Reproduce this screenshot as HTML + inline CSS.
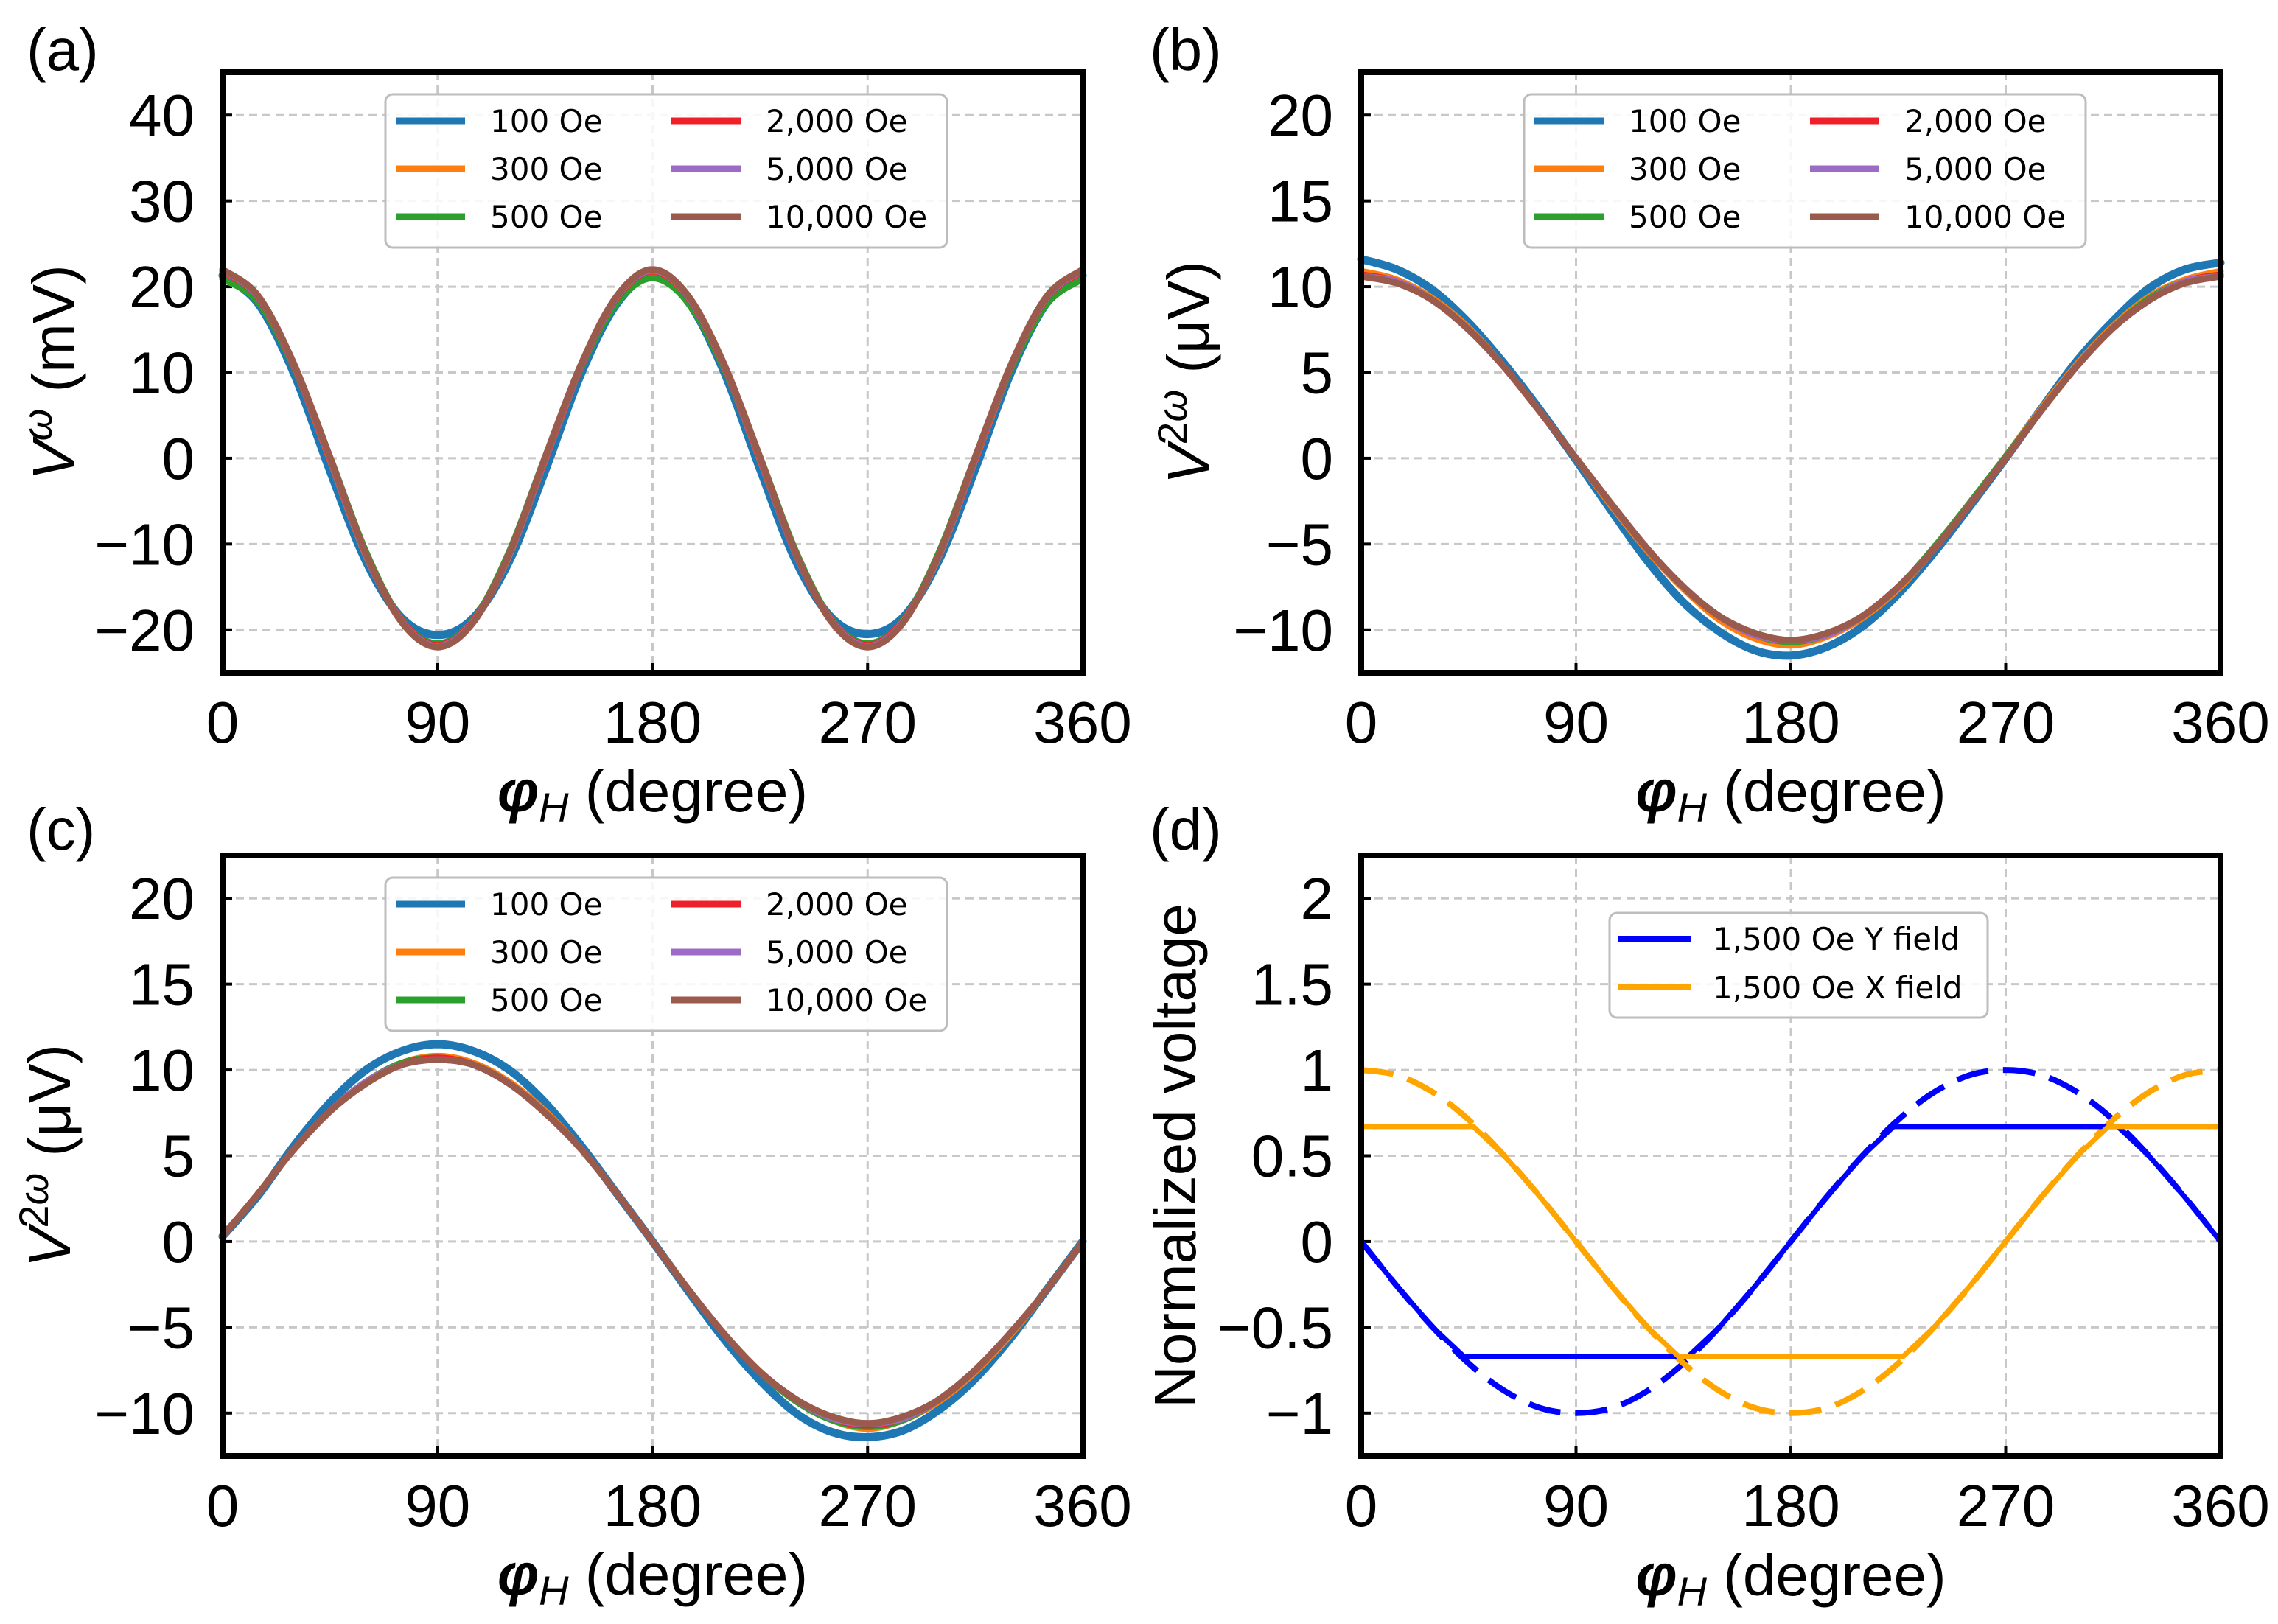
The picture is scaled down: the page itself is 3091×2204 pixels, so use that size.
<!DOCTYPE html>
<html><head><meta charset="utf-8"><title>Harmonic voltage vs field angle</title>
<style>
html,body{margin:0;padding:0;background:#fff;}
svg{display:block;}
text{font-family:"Liberation Sans",Arial,sans-serif;fill:#000;}
.leg{font-family:"DejaVu Sans","Liberation Sans",sans-serif;font-size:42px;}
</style></head>
<body>
<svg id="fig" width="3091" height="2204" viewBox="0 0 3091 2204" xmlns="http://www.w3.org/2000/svg"></svg>
<script>
// ---------- data ----------
const phi15 = [0,15,30,45,60,75,90,105,120,135,150,165,180,195,210,225,240,255,270,285,300,315,330,345,360];
const xTicks = [0,90,180,270,360];
const fieldLabels = ["100 Oe","300 Oe","500 Oe","2,000 Oe","5,000 Oe","10,000 Oe"];
const fieldColors = ["#1f77b4","#ff7f0e","#2ca02c","#f0202a","#9c6bc6","#9a5a4c"];

// panel (a) V^ω (mV)
const aTicks = [-20,-10,0,10,20,30,40];
const a100 = [21.3,18.0,9.8,-1.5,-12.0,-18.6,-20.6,-18.6,-12.0,-1.5,9.8,18.0,21.3,18.2,10.0,-1.3,-12.0,-18.6,-20.5,-18.5,-11.8,-1.3,10.0,18.1,21.3];
const a300 = [21.7,18.6,10.6,-0.2,-11.3,-18.9,-22.0,-19.0,-11.3,-0.2,10.6,18.7,21.7,18.7,10.6,-0.2,-11.2,-19.0,-22.0,-19.0,-11.3,-0.2,10.5,18.6,21.7];
const a500 = [20.9,18.2,10.5,0.1,-10.9,-18.8,-21.6,-18.8,-10.9,0.1,10.5,18.1,21.0,18.1,10.4,0.1,-10.9,-18.8,-21.6,-18.8,-10.9,0.1,10.4,18.0,20.9];
const a2000 = [21.8,18.7,10.7,-0.1,-11.2,-18.9,-21.8,-18.9,-11.2,-0.1,10.7,18.7,21.8,18.7,10.7,-0.1,-11.2,-18.9,-21.8,-18.9,-11.2,-0.1,10.7,18.7,21.8];
const a5000 = [21.9,18.8,10.8,0.0,-11.2,-19.0,-21.9,-19.0,-11.2,0.0,10.8,18.8,21.9,18.8,10.8,0.0,-11.2,-19.0,-21.9,-19.0,-11.2,0.0,10.8,18.8,21.9];
const a10000 = [22.0,18.9,10.9,0.1,-11.1,-19.1,-22.0,-19.1,-11.1,0.1,10.9,18.9,22.0,18.9,10.9,0.1,-11.1,-19.1,-22.0,-19.1,-11.1,0.1,10.9,18.9,22.0];

// panel (b) V^2ω (µV)
const bTicks = [-10,-5,0,5,10,15,20];
const b100 = [11.6,11.0,9.8,7.9,5.5,2.8,-0.1,-3.1,-6.0,-8.4,-10.1,-11.2,-11.5,-11.0,-9.8,-7.9,-5.5,-2.8,0.0,2.9,5.7,8.0,9.9,11.0,11.4];
const b300 = [10.9,10.4,9.3,7.6,5.3,2.7,0.0,-2.8,-5.4,-7.6,-9.4,-10.5,-10.9,-10.4,-9.3,-7.6,-5.3,-2.6,0.1,2.9,5.5,7.7,9.4,10.4,10.9];
const b500 = [10.6,10.3,9.2,7.5,5.3,2.7,0.0,-2.7,-5.3,-7.5,-9.2,-10.3,-10.7,-10.3,-9.2,-7.5,-5.2,-2.6,0.1,2.8,5.4,7.6,9.3,10.3,10.6];
const b2000 = [10.7,10.3,9.2,7.5,5.3,2.7,0.0,-2.7,-5.3,-7.5,-9.2,-10.3,-10.6,-10.3,-9.2,-7.5,-5.3,-2.7,0.0,2.8,5.4,7.6,9.2,10.3,10.7];
const b5000 = [10.6,10.3,9.2,7.5,5.3,2.7,0.0,-2.7,-5.3,-7.5,-9.2,-10.3,-10.6,-10.3,-9.2,-7.5,-5.3,-2.7,0.0,2.8,5.4,7.6,9.2,10.3,10.6];
const b10000 = [10.6,10.2,9.2,7.5,5.3,2.7,0.0,-2.7,-5.3,-7.5,-9.2,-10.2,-10.6,-10.2,-9.2,-7.5,-5.3,-2.7,0.0,2.8,5.4,7.6,9.2,10.2,10.6];

// panel (c) V^2ω (µV)
const c100 = [0.3,2.7,5.6,8.1,10.0,11.1,11.5,11.1,10.0,8.1,5.6,2.8,0.0,-2.9,-5.7,-8.1,-10.0,-11.1,-11.4,-11.0,-9.8,-8.0,-5.6,-2.8,0.0];
const c300 = [0.3,2.8,5.4,7.6,9.3,10.4,10.8,10.4,9.3,7.6,5.4,2.8,0.0,-2.8,-5.4,-7.6,-9.3,-10.4,-10.9,-10.4,-9.3,-7.6,-5.4,-2.8,0.0];
const c500 = [0.3,2.8,5.4,7.6,9.3,10.4,10.7,10.3,9.2,7.5,5.4,2.8,0.0,-2.8,-5.4,-7.6,-9.3,-10.4,-10.8,-10.4,-9.2,-7.5,-5.3,-2.8,0.0];
const c2000 = [0.3,2.8,5.4,7.6,9.3,10.3,10.7,10.3,9.2,7.5,5.4,2.8,0.0,-2.8,-5.4,-7.6,-9.2,-10.3,-10.7,-10.3,-9.2,-7.5,-5.3,-2.8,0.0];
const c5000 = [0.3,2.8,5.4,7.6,9.3,10.3,10.6,10.3,9.2,7.5,5.4,2.8,0.0,-2.8,-5.4,-7.6,-9.2,-10.3,-10.6,-10.3,-9.2,-7.5,-5.3,-2.8,0.0];
const c10000 = [0.3,2.8,5.4,7.6,9.2,10.3,10.6,10.3,9.2,7.5,5.4,2.8,0.0,-2.8,-5.4,-7.6,-9.2,-10.2,-10.6,-10.2,-9.2,-7.5,-5.3,-2.8,0.0];

// panel (d) normalized voltage
const dTicks = [-1,-0.5,0,0.5,1,1.5,2];
const dTickLabels = ["\u22121","\u22120.5","0","0.5","1","1.5","2"];
const dYdash = [0,-0.26,-0.5,-0.71,-0.87,-0.97,-1.0,-0.97,-0.87,-0.71,-0.5,-0.26,0,0.26,0.5,0.71,0.87,0.97,1.0,0.97,0.87,0.71,0.5,0.26,0];
const dXdash = [1.0,0.97,0.87,0.71,0.5,0.26,0,-0.26,-0.5,-0.71,-0.87,-0.97,-1.0,-0.97,-0.87,-0.71,-0.5,-0.26,0,0.26,0.5,0.71,0.87,0.97,1.0];
const dYsolidPhi = [0,15,30,43,137,150,165,180,195,210,223,317,330,345,360];
const dYsolid = [0,-0.26,-0.5,-0.67,-0.67,-0.5,-0.26,0,0.26,0.5,0.67,0.67,0.5,0.26,0];
const dXsolidPhi = [0,47,60,75,90,105,120,133,227,240,255,270,285,300,313,360];
const dXsolid = [0.67,0.67,0.5,0.26,0,-0.26,-0.5,-0.67,-0.67,-0.5,-0.26,0,0.26,0.5,0.67,0.67];

// ---------- drawing ----------
const NS="http://www.w3.org/2000/svg";
const svg=document.getElementById('fig');
function mk(tag,attrs,parent){const e=document.createElementNS(NS,tag);for(const k in attrs)e.setAttribute(k,attrs[k]);(parent||svg).appendChild(e);return e;}
function minus(v){return String(v).replace('-','\u2212');}

function makeAxes(L,R,T,B,ymin,ymax){
  return {L,R,T,B,
    x:v=>L+(v-0)/(360-0)*(R-L),
    y:v=>B-(v-ymin)/(ymax-ymin)*(B-T)};
}
function smoothPath(ax,xs,ys){
  const p=xs.map((x,i)=>[ax.x(x),ax.y(ys[i])]);
  let d=`M${p[0][0].toFixed(1)},${p[0][1].toFixed(1)}`;
  for(let i=0;i<p.length-1;i++){
    const p0=p[i-1]||p[i],p1=p[i],p2=p[i+1],p3=p[i+2]||p[i+1];
    const c1=[p1[0]+(p2[0]-p0[0])/6,p1[1]+(p2[1]-p0[1])/6];
    const c2=[p2[0]-(p3[0]-p1[0])/6,p2[1]-(p3[1]-p1[1])/6];
    d+=` C${c1[0].toFixed(1)},${c1[1].toFixed(1)} ${c2[0].toFixed(1)},${c2[1].toFixed(1)} ${p2[0].toFixed(1)},${p2[1].toFixed(1)}`;
  }
  return d;
}
function linePath(ax,xs,ys){return xs.map((x,i)=>(i?'L':'M')+ax.x(x).toFixed(1)+','+ax.y(ys[i]).toFixed(1)).join(' ');}

function drawFrame(g,ax,yTicks,yLabels){
  // grid
  xTicks.forEach(t=>{
    const l=mk('line',{x1:ax.x(t),x2:ax.x(t),y1:ax.T,y2:ax.B,stroke:'#c8c8c8','stroke-width':3,'stroke-dasharray':'11,7'},g);
    
    
  });
  yTicks.forEach(t=>{
    const l=mk('line',{x1:ax.L,x2:ax.R,y1:ax.y(t),y2:ax.y(t),stroke:'#c8c8c8','stroke-width':3,'stroke-dasharray':'11,7'},g);
    
    
  });
  // ticks & labels
  xTicks.forEach(t=>{
    mk('line',{x1:ax.x(t),x2:ax.x(t),y1:ax.B,y2:ax.B-13,stroke:'#000','stroke-width':4},g);
    const tx=mk('text',{x:ax.x(t),y:ax.B+95,'font-size':80,'text-anchor':'middle'},g);
    tx.textContent=t;
    
    
  });
  yTicks.forEach((t,i)=>{
    mk('line',{x1:ax.L,x2:ax.L+13,y1:ax.y(t),y2:ax.y(t),stroke:'#000','stroke-width':4},g);
    const tx=mk('text',{x:ax.L-38,y:ax.y(t)+28,'font-size':80,'text-anchor':'end'},g);
    tx.textContent=yLabels?yLabels[i]:minus(t);
    
    
  });
}
function drawSpine(g,ax){
  const r=mk('rect',{x:ax.L,y:ax.T,width:ax.R-ax.L,height:ax.B-ax.T,fill:'none',stroke:'#000','stroke-width':8},g);
  
  
}
function xTitle(g,ax,yb){
  const t=mk('text',{x:(ax.L+ax.R)/2,y:yb,'font-size':80,'text-anchor':'middle'},g);
  t.innerHTML='<tspan font-style="italic" font-weight="bold">φ</tspan><tspan font-style="italic" font-size="56" dy="14">H</tspan><tspan dy="-14"> (degree)</tspan>';
  
  
}
function yTitle(g,cx,cy,html){
  const t=mk('text',{x:0,y:0,'font-size':80,'text-anchor':'middle',transform:`translate(${cx},${cy}) rotate(-90)`},g);
  t.innerHTML=html;
  
  
}
function panelLabel(x,y,s){
  const t=mk('text',{x:x,y:y,'font-size':80});
  t.textContent=s;
  
  
}
function fieldLegend(g,ax,top){
  const lg=mk('g',{},g);
  
  
  const L=ax.L+221;
  mk('rect',{x:L,y:top,width:762,height:208,rx:10,fill:'#fff','fill-opacity':0.85,stroke:'#bdbdbd','stroke-width':3},lg);
  fieldLabels.forEach((lab,i)=>{
    const col=Math.floor(i/3),row=i%3;
    const lx=L+14+col*374, yy=top+36+row*65;
    const e=mk('g',{},lg);
    
    
    mk('line',{x1:lx,x2:lx+94,y1:yy,y2:yy,stroke:fieldColors[i],'stroke-width':9},e);
    const t=mk('text',{x:lx+128,y:yy+15,class:'leg'},e);
    t.textContent=lab;
  });
}
function fieldPanel(name,L,R,T,B,ymin,ymax,ticks,series,ylab,ylx){
  const g=mk('g',{});
  
  
  const ax=makeAxes(L,R,T,B,ymin,ymax);
  drawFrame(g,ax,ticks);
  series.forEach((s,i)=>{
    const p=mk('path',{d:smoothPath(ax,phi15,s),fill:'none',stroke:fieldColors[i],'stroke-width':i===0?11:9,'stroke-linejoin':'round','stroke-linecap':'round'},g);
    
    
  });
  drawSpine(g,ax);
  fieldLegend(g,ax,T+30);
  xTitle(g,ax,B+188);
  yTitle(g,ylx,(T+B)/2,ylab);
}

panelLabel(36,95,'(a)');
panelLabel(1560,95,'(b)');
panelLabel(36,1153,'(c)');
panelLabel(1560,1153,'(d)');

const V1='<tspan font-style="italic">V</tspan><tspan font-style="italic" font-size="56" dy="-30">ω</tspan><tspan dy="30">  (mV)</tspan>';
const V2='<tspan font-style="italic">V</tspan><tspan font-size="56" dy="-30">2</tspan><tspan font-style="italic" font-size="56">ω</tspan><tspan dy="30"> (μV)</tspan>';

fieldPanel('panel-a',302,1469,98,913,-25,45,aTicks,[a100,a300,a500,a2000,a5000,a10000],V1,100);
fieldPanel('panel-b',1847,3013,98,913,-12.5,22.5,bTicks,[b100,b300,b500,b2000,b5000,b10000],V2,1640);
fieldPanel('panel-c',302,1469,1161,1976,-12.5,22.5,bTicks,[c100,c300,c500,c2000,c5000,c10000],V2,95);

// panel d
(function(){
  const g=mk('g',{});
  
  
  const ax=makeAxes(1847,3013,1161,1976,-1.25,2.25);
  drawFrame(g,ax,dTicks,dTickLabels);
  let p;
  p=mk('path',{d:smoothPath(ax,phi15,dYdash),fill:'none',stroke:'#0000ff','stroke-width':8,'stroke-dasharray':'44,20'},g);
  
  
  p=mk('path',{d:smoothPath(ax,phi15,dXdash),fill:'none',stroke:'#ffa500','stroke-width':8,'stroke-dasharray':'44,20'},g);
  
  
  p=mk('path',{d:linePath(ax,dYsolidPhi,dYsolid),fill:'none',stroke:'#0000ff','stroke-width':7,'stroke-linejoin':'round'},g);
  
  
  p=mk('path',{d:linePath(ax,dXsolidPhi,dXsolid),fill:'none',stroke:'#ffa500','stroke-width':7,'stroke-linejoin':'round'},g);
  
  
  drawSpine(g,ax);
  const lg=mk('g',{},g);
  
  
  mk('rect',{x:2184,y:1239,width:513,height:142,rx:10,fill:'#fff','fill-opacity':0.85,stroke:'#bdbdbd','stroke-width':3},lg);
  [['1,500 Oe Y field','#0000ff'],['1,500 Oe X field','#ffa500']].forEach((e,i)=>{
    const eg=mk('g',{},lg);
    
    
    const yy=1274+i*66;
    mk('line',{x1:2196,x2:2294,y1:yy,y2:yy,stroke:e[1],'stroke-width':8},eg);
    const t=mk('text',{x:2324,y:yy+15,class:'leg'},eg);
    t.textContent=e[0];
  });
  xTitle(g,ax,2165);
  yTitle(g,1622,(1161+1976)/2,'Normalized voltage');
})();
</script>
</body></html>
